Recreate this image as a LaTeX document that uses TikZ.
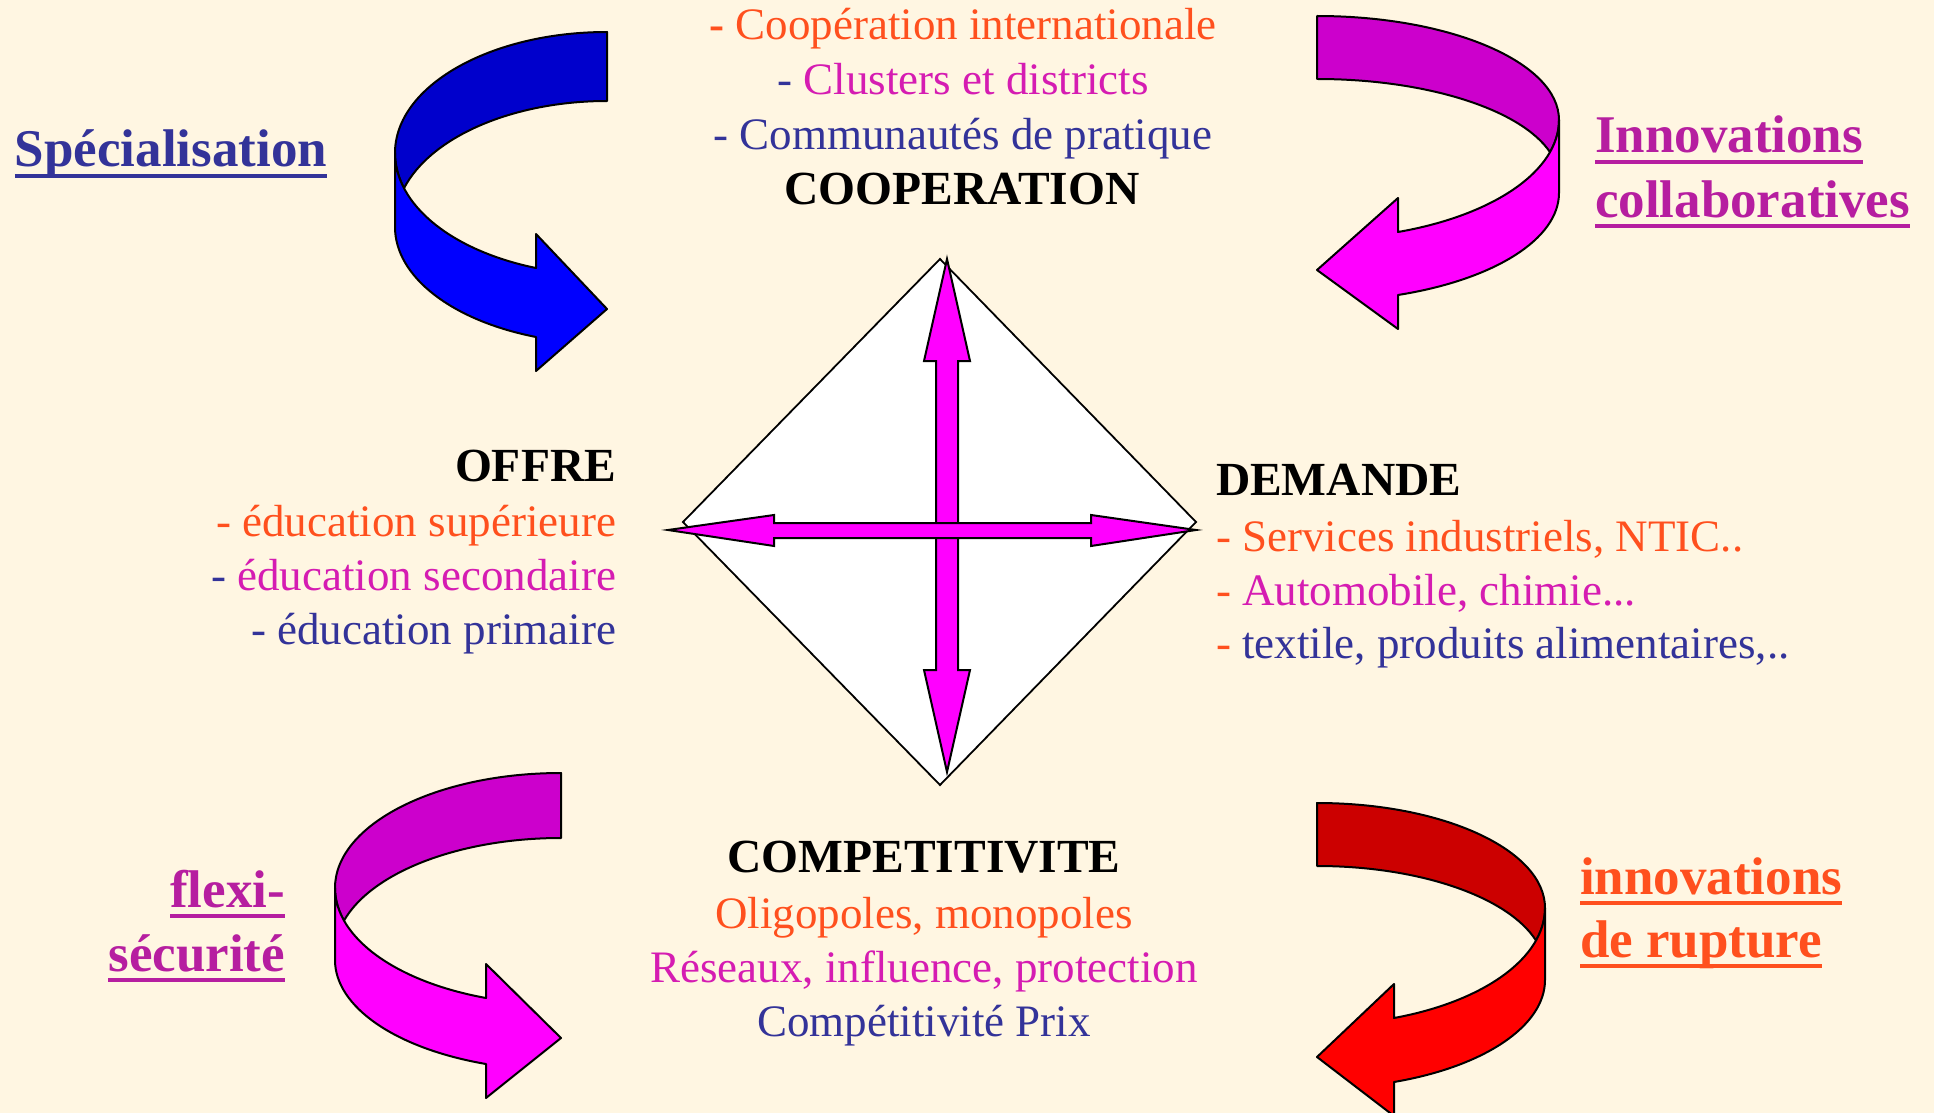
\documentclass[tikz,border=0pt]{standalone}
\usepackage{fontspec}
\setmainfont{Liberation Serif}
\newcommand\fs{\fontsize{22.5}{27}\selectfont}
\newcommand\fh{\fontsize{23.75}{28}\selectfont\bfseries}
\newcommand\fl{\fontsize{26.5}{32}\selectfont\bfseries}
\newcommand\myul[1]{\setbox0=\hbox{#1}\rlap{\rule[-5.6pt]{\wd0}{2.3pt}}\box0}
\definecolor{bg}{RGB}{255,246,226}
\definecolor{tor}{RGB}{255,80,30}
\definecolor{tmg}{RGB}{213,28,178}
\definecolor{tbl}{RGB}{51,51,153}
\definecolor{lpu}{RGB}{182,30,160}
\definecolor{blueD}{RGB}{0,0,204}\definecolor{blueB}{RGB}{0,0,255}
\definecolor{magD}{RGB}{204,0,204}\definecolor{magB}{RGB}{255,0,255}
\definecolor{redD}{RGB}{204,0,0}\definecolor{redB}{RGB}{255,0,0}
\tikzset{
  swirlline/.style={draw=black, line width=1pt, line join=round},
  tx/.style={inner sep=0pt, outer sep=0pt},
  dbl/.style={draw=black, line width=1pt, fill=magB, line join=miter},
}
% #1 W, #2 Cy, #3 Ey, #4 By, #5 Fx, #6 Jy, #7 Fy, #8 Hy, #9 colour prefix
\newcommand\swirl[9]{%
  \pgfmathsetmacro\swA{acos(#5/#1)}%
  \pgfmathsetmacro\swE{180-\swA}%
  \pgfmathsetmacro\swRf{(#6-#2)/sin(\swA)}%
  \pgfmathsetmacro\swRb{(#7-#3)/sin(\swA)}%
  \pgfmathsetmacro\swD{acos((#1-9)/#1)}%
  \pgfmathsetmacro\swDy{#2+\swRf*sin(\swD)}%
  \pgfmathsetmacro\swRk{(\swDy-#4)/(1-sin(\swD))}%
  \draw[swirlline, fill=#9D] (0,0)
     arc[start angle=270, end angle=180, x radius=#1, y radius=#2]
     arc[start angle=180, end angle=180-\swD, x radius=#1, y radius=\swRf]
     arc[start angle=180+\swD, end angle=270, x radius=#1, y radius=\swRk] -- cycle;
  \draw[swirlline, fill=#9B] (-#1,#2) -- (-#1,#3)
     arc[start angle=180, end angle=\swE, x radius=#1, y radius=\swRb]
     -- (-#5,#7+34) -- (0,#8) -- (-#5,#6-34) -- (-#5,#6)
     arc[start angle=\swE, end angle=180, x radius=#1, y radius=\swRf] -- cycle;
}
\begin{document}
\begin{tikzpicture}[x=0.5pt,y=-0.5pt]
\fill[bg] (0,0) rectangle (1934,1113);
\useasboundingbox (0,0) rectangle (1934,1113);

% curved arrows
\begin{scope}[shift={(607,32)}]
  \swirl{212}{121}{195}{69}{71}{236}{305}{277}{blue}
\end{scope}
\begin{scope}[shift={(1317,16)}, xscale=-1]
  \swirl{242}{104}{177}{63}{81}{216}{279}{254}{mag}
\end{scope}
\begin{scope}[shift={(561,773)}]
  \swirl{226}{115}{187}{65}{75}{225}{291}{265}{mag}
\end{scope}
\begin{scope}[shift={(1317,803)}, xscale=-1]
  \swirl{228}{105}{177}{63}{77}{215}{279}{254}{red}
\end{scope}

% diamond
\coordinate (dT) at (940,259);
\coordinate (dR) at (1196,522);
\coordinate (dB) at (940,785);
\coordinate (dL) at (683,522);
\draw[fill=white, line width=0.9pt] (dT) -- (dR) -- (dB) -- (dL) -- cycle;

% vertical double arrow
\draw[dbl] (947,259) -- (970,361) -- (958,361) -- (958,670) -- (970,670) -- (947,772)
  -- (924,670) -- (936,670) -- (936,361) -- (924,361) -- cycle;
% horizontal double arrow
\draw[dbl] (668,530) -- (774,515) -- (774,523) -- (1091,523) -- (1091,515) -- (1196,530)
  -- (1091,546) -- (1091,538) -- (774,538) -- (774,546) -- cycle;

% COOPERATION block
\node[tx, anchor=base, font=\fs] (coop1) at (963,40) {\textcolor{tor}{\textbf{-} Coopération internationale}};
\node[tx, anchor=base, font=\fs] (coop2) at (963,95) {\textcolor{tbl}{-} \textcolor{tmg}{Clusters et districts}};
\node[tx, anchor=base, font=\fs] (coop3) at (963,149) {\textcolor{tbl}{- Communautés de pratique}};
\node[tx, anchor=base, font=\fh] (coop) at (962,205) {COOPERATION};

% OFFRE block
\node[tx, anchor=base east, font=\fh] (offre) at (616,481) {OFFRE};
\node[tx, anchor=base east, font=\fs] (offre1) at (616,536) {\textcolor{tor}{- éducation supérieure}};
\node[tx, anchor=base east, font=\fs] (offre2) at (616,590) {\textcolor{tbl}{-} \textcolor{tmg}{éducation secondaire}};
\node[tx, anchor=base east, font=\fs] (offre3) at (616,644) {\textcolor{tbl}{- éducation primaire}};

% DEMANDE block
\node[tx, anchor=base west, font=\fh] (dem) at (1216,495) {DEMANDE};
\node[tx, anchor=base west, font=\fs] (dem1) at (1216,551) {\textcolor{tor}{- Services industriels, NTIC..}};
\node[tx, anchor=base west, font=\fs] (dem2) at (1216,605) {\textcolor{tor}{-} \textcolor{tmg}{Automobile, chimie...}};
\node[tx, anchor=base west, font=\fs] (dem3) at (1216,658) {\textcolor{tor}{-} \textcolor{tbl}{textile, produits alimentaires,..}};

% COMPETITIVITE block
\node[tx, anchor=base, font=\fh] (comp) at (924,872) {COMPETITIVITE};
\node[tx, anchor=base, font=\fs] (comp1) at (924,928) {\textcolor{tor}{Oligopoles, monopoles}};
\node[tx, anchor=base, font=\fs] (comp2) at (924,982) {\textcolor{tmg}{Réseaux, influence, protection}};
\node[tx, anchor=base, font=\fs] (comp3) at (924,1036) {\textcolor{tbl}{Compétitivité Prix}};

% labels
\node[tx, anchor=base west, font=\fl, text=tbl] (spec) at (15,167) {\myul{Spécialisation}};
\node[tx, anchor=base west, font=\fl, text=lpu] (inno1) at (1595,153) {\myul{Innovations}};
\node[tx, anchor=base west, font=\fl, text=lpu] (inno2) at (1595,217) {\myul{collaboratives}};
\node[tx, anchor=base east, font=\fl, text=lpu] (flex1) at (285,907) {\myul{flexi-}};
\node[tx, anchor=base east, font=\fl, text=lpu] (flex2) at (285,971) {\myul{sécurité}};
\node[tx, anchor=base west, font=\fl, text=tor] (rupt1) at (1580,894) {\myul{innovations}};
\node[tx, anchor=base west, font=\fl, text=tor] (rupt2) at (1580,957) {\myul{de rupture}};
\end{tikzpicture}
\end{document}
